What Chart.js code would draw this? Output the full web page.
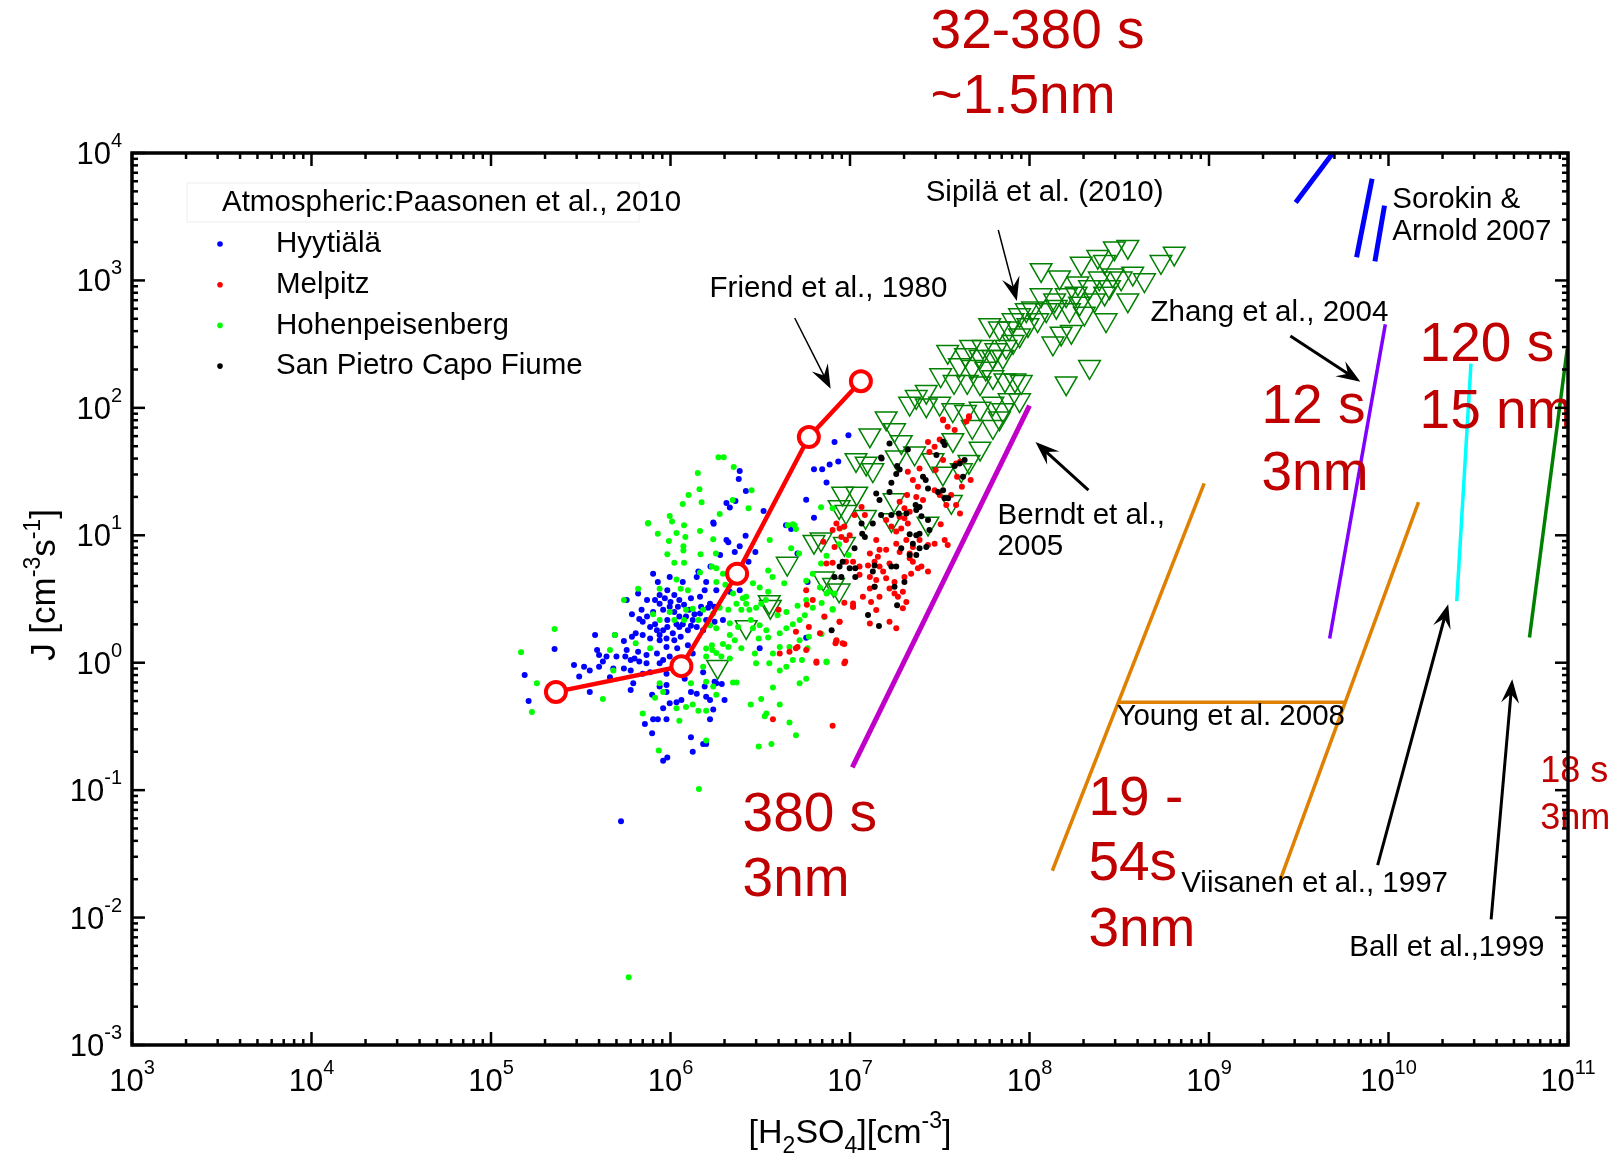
<!DOCTYPE html>
<html lang="en">
<head>
<meta charset="UTF-8">
<title>J vs H2SO4</title>
<script src="https://cdn.jsdelivr.net/npm/chart.js"></script>
<style>
  body { margin: 0; background: #fff; }
</style>
</head>
<body>
<canvas id="myChart" width="1619" height="1158"></canvas>
<script>
// axis ticks
const xTicks = [1e3, 1e4, 1e5, 1e6, 1e7, 1e8, 1e9, 1e10, 1e11];
const xTickLabels = ['3', '4', '5', '6', '7', '8', '9', '10', '11'];
const yTicks = [1e-3, 1e-2, 1e-1, 1, 10, 100, 1e3, 1e4];
const yTickLabels = ['-3', '-2', '-1', '0', '1', '2', '3', '4'];
const minorSteps = [2, 3, 4, 5, 6, 7, 8, 9];

// legend order of the field sites
const stations = ['Hyytiälä', 'Melpitz', 'Hohenpeisenberg', 'San Pietro Capo Fiume'];
const stationColors = ['#0000ff', '#ff0000', '#00ff00', '#000000'];

// Paasonen et al. 2010 field data, [H2SO4, J]
const hyytiala = [
  [1.73e6,12.6],[2.62e6,9.9],[2.1e6,8.8],[2.43e6,8.2],[2.28e6,7.4],[2.97e6,7.4],[2.72e6,6.2],[1.43e6,5.2],[1.89e6,7.0],[1.67e6,5.7],
  [8.0e5,5.0],[8.5e5,4.3],[9.6e5,3.7],[1.17e6,4.3],[1.40e6,4.7],[1.58e6,4.3],[1.55e6,3.7],[1.80e6,3.7],[2.14e6,3.6],[2.43e6,3.7],
  [6.6e5,3.5],[7.4e5,3.1],[8.7e5,3.4],[1.05e6,3.4],[1.12e6,3.1],[1.30e6,3.2],[1.46e6,3.3],[1.66e6,2.9],[5.7e5,3.1],[6.1e5,2.4],
  [6.9e5,2.6],[6.7e5,2.2],[7.4e5,2.3],[8.0e5,2.5],[8.7e5,2.9],[9.1e5,2.6],[9.9e5,2.75],[1.05e6,2.5],[1.12e6,2.3],[1.22e6,2.3],
  [1.33e6,2.16],[1.46e6,2.43],[1.58e6,2.16],[1.76e6,2.1],[1.96e6,2.16],[7.7e5,1.91],[8.4e5,1.8],[9.1e5,1.8],[9.6e5,1.91],[1.03e6,1.7],
  [1.12e6,1.91],[1.25e6,1.8],[1.4e6,1.91],[1.52e6,1.8],[3.8e5,1.65],[4.9e5,1.65],[6.4e5,1.7],[7.7e5,1.55],[8.7e5,1.5],[9.5e5,1.33],
  [1.09e6,1.3],[1.25e6,1.37],[1.33e6,1.18],[3.9e5,1.26],[4.0e5,1.15],[4.4e5,1.12],[5.0e5,1.12],[5.6e5,1.12],[6.0e5,1.05],[6.7e5,1.02],
  [7.35e5,0.99],[8.4e5,1.18],[9.9e5,1.12],[2.9e5,0.96],[3.3e5,0.93],[3.1e5,0.78],[3.55e5,0.87],[4.0e5,0.93],[4.8e5,0.9],[5.5e5,0.9],
  [6.0e5,0.87],[7.0e5,0.82],[8.7e5,0.99],[9.5e5,0.82],[1.2e6,0.75],[1.52e6,0.84],[1.76e6,0.71],[1.93e6,0.68],[6.2e5,0.69],[6.0e5,0.61],
  [3.55e5,0.59],[7.9e5,0.56],[8.7e5,0.65],[9.5e5,0.67],[9.5e5,0.59],[1.3e6,0.59],[1.4e6,0.57],[1.58e6,0.54],[1.66e6,0.51],[1.8e6,0.69],
  [1.55e6,0.65],[2.0e6,0.51],[9.9e5,0.48],[1.08e6,0.49],[1.15e6,0.51],[9.1e5,0.44],[8.0e5,0.36],[8.5e5,0.36],[9.5e5,0.36],[7.9e5,0.28],
  [1.3e6,0.26],[1.66e6,0.36],[1.73e6,0.43],[1.52e6,0.23],[1.58e6,0.23],[1.33e6,0.2],[9.1e5,0.17],[9.6e5,0.18],[2.05e6,9.2],[3.14e6,1.3],
  [9.9e5,4.7],[6.3e5,1.08],[7.2e5,0.33],[4.6e5,0.77],[8.2e5,3.1],[9.3e5,3.2],[1.0e6,3.0],[1.1e6,2.75],[1.19e6,2.85],[1.27e6,2.6],
  [1.36e6,2.4],[1.48e6,2.75],[1.62e6,2.7],[1.75e6,2.75],[7.0e5,2.1],[8.2e5,2.0],[9.6e5,2.16],[1.08e6,2.0],[1.17e6,2.0],[1.30e6,1.95],
  [8.7e5,1.65],[9.5e5,1.55],[1.05e6,1.5],[1.14e6,1.6],[7.0e5,1.65],[6.1e5,1.6],[5.5e5,1.48],[5.7e5,1.26],[6.6e5,1.22],[7.35e5,1.15],
  [9.1e5,1.05],[1.03e6,0.93],[7.7e5,0.84],[4.2e5,1.02],[1.54e5,0.8],[1.62e5,0.5],[2.26e5,1.28],[2.43e6,31.9],[2.4e6,27.7],[2.63e6,22.3],
  [2.14e6,16.5],[2.05e6,17.9],[2.3e6,18.6],[1.74e6,12.3],[3.3e6,15.5],[4.4e6,12.0],[4.7e6,11.2],[9.8e6,61],[8.2e6,54],[8.6e6,38],
  [6.3e6,33],[7.0e6,33],[7.7e6,36],[7.4e6,26],[5.7e6,19],[6.3e6,13.7],[5.1e6,7.2],[5.8e6,4.3],[5.7e6,1.57],[5.3e5,0.057]
];

const melpitz = [
  [5.7e6,3.7],[6.2e6,3.1],[5.75e6,2.85],[9.3e6,2.95],[1.04e7,2.75],[7.2e6,2.3],[8.75e6,2.1],[5.9e6,1.91],[5.0e6,1.75],[6.8e6,1.7],
  [8.4e6,1.48],[9.3e6,1.4],[5.1e6,1.33],[5.7e6,1.26],[4.06e6,1.18],[4.6e6,1.22],[6.5e6,1.02],[9.4e6,1.02],[3.72e6,0.36],[8.0e6,0.32],
  [4.6e7,86],[4.45e7,78],[3.3e7,81],[3.5e7,71],[3.83e7,67],[2.72e7,54],[3.16e7,56.5],[2.96e7,49.5],[2.77e7,45],[3.3e7,39],
  [3.0e7,32.5],[3.9e7,36.6],[4.1e7,37.8],[3.95e7,28.8],[4.7e7,27.1],[4.2e7,24],[2.1e7,31.5],[2.44e7,33.5],[2.24e7,27.1],[2.39e7,24],
  [2.08e7,20.7],[2.34e7,20],[2.55e7,18.9],[2.96e7,22.6],[3.16e7,20.7],[3.44e7,17.3],[4.1e7,14.8],[3.66e7,20.7],[3.9e7,17.3],[3.2e7,12.2],
  [1.89e7,18.3],[2.01e7,16.3],[2.15e7,15.3],[1.89e7,14],[2.01e7,13.6],[2.1e7,12.4],[1.93e7,11.3],[1.81e7,10.7],[1.59e7,13.2],[1.7e7,11.7],
  [1.16e7,16.7],[1.06e7,14.4],[1.21e7,14.4],[8.4e6,12.4],[8.75e6,11.3],[9.3e6,11.7],[9.96e6,10],[8.95e6,9.7],[9.5e6,9.2],[8.0e6,11],
  [8.2e6,8.1],[7.1e6,8.9],[1.4e7,9.2],[1.46e7,7.7],[1.43e7,6.8],[1.29e7,7.2],[1.59e7,7.7],[1.81e7,8.6],[1.89e7,7.4],[2.15e7,7.2],
  [2.06e7,9.2],[2.24e7,8.1],[2.44e7,9.2],[2.72e7,8.4],[2.96e7,8.6],[3.37e7,9.2],[3.5e7,8.4],[2.5e7,5.7],[2.72e7,5.2],[2.39e7,5.5],
  [2.15e7,6.6],[2.24e7,6.2],[1.66e7,6.0],[1.46e7,5.7],[1.53e7,5.2],[1.26e7,5.8],[1.37e7,6.2],[1.13e7,5.7],[1.04e7,6.2],[1.29e7,4.7],
  [1.13e7,4.9],[9.5e6,6.2],[8.0e6,6.1],[7.4e6,6.0],[1.59e7,4.6],[1.4e7,4.45],[1.77e7,4.3],[2.01e7,4.7],[2.19e7,5.0],[1.29e7,3.83],
  [1.37e7,3.95],[1.18e7,3.29],[1.31e7,3.0],[1.46e7,3.29],[1.66e7,3.83],[1.77e7,3.5],[1.97e7,3.6],[2.06e7,3.0],[1.85e7,3.29],[1.97e7,2.67],
  [1.04e7,2.92],[1.04e7,2.75],[1.4e7,2.59],[1.66e7,2.1],[1.29e7,2.03],[1.81e7,1.86],[8.75e6,2.1],[8.4e6,1.5],[9.1e6,1.42],[9.3e6,0.99],
  [3.3e7,80],[4.6e7,84],[6.5e6,1.0],[8.3e6,1.42],[4.0e6,2.6],[5.0e6,1.3]
];

const hohenpeisenberg = [
  [7.5e5,12.4],[1.02e6,12.8],[1.19e6,12.0],[8.5e5,10.3],[1.08e6,10.4],[1.21e6,9.7],[1.46e6,10.8],[1.73e6,9.3],[9.8e5,9.0],[1.18e6,8.2],
  [1.18e6,7.6],[9.6e5,7.1],[1.47e6,7.1],[1.79e6,7.2],[1.05e6,6.1],[1.19e6,6.1],[1.70e6,5.7],[1.80e6,5.5],[1.96e6,5.0],[1.08e6,4.5],
  [1.14e6,3.8],[1.25e6,3.7],[8.7e5,3.8],[1.46e6,5.1],[1.80e6,4.3],[2.02e6,4.1],[2.23e6,3.5],[2.53e6,3.2],[2.64e6,3.3],[2.88e6,4.2],
  [3.57e6,9.2],[4.5e6,12.0],[4.9e6,12.0],[4.7e6,7.9],[5.2e6,7.2],[3.5e6,5.3],[3.7e6,4.7],[4.3e6,4.2],[3.14e6,3.9],[3.5e6,3.6],
  [2.33e6,2.9],[2.48e6,2.6],[2.64e6,2.9],[3.0e6,2.7],[3.4e6,3.1],[2.1e6,2.6],[1.88e6,2.7],[1.33e6,2.65],[1.22e6,2.6],[1.52e6,2.6],
  [1.73e6,2.43],[9.9e5,2.5],[8.0e5,2.4],[8.7e5,2.16],[1.05e6,2.16],[1.19e6,2.16],[1.43e6,2.16],[1.66e6,1.97],[1.80e6,1.86],[2.14e6,2.04],
  [2.38e6,1.91],[2.14e6,1.65],[2.28e6,1.5],[1.96e6,1.4],[1.70e6,1.37],[1.58e6,1.29],[1.80e6,1.19],[2.1e6,1.33],[2.48e6,1.3],[2.88e6,1.86],
  [3.14e6,1.97],[3.42e6,1.8],[3.5e6,1.58],[3.1e6,1.55],[4.06e6,1.7],[4.42e6,1.86],[4.8e6,2.0],[5.24e6,2.16],[4.42e6,2.5],[5.1e6,2.8],
  [5.7e6,3.1],[6.2e6,2.7],[5.6e6,2.36],[5.9e6,1.6],[5.24e6,1.5],[5.8e6,1.3],[4.6e6,1.33],[4.06e6,1.33],[3.72e6,1.18],[3.55e6,0.99],
  [2.95e6,1.18],[3.0e6,0.99],[2.14e6,1.08],[1.92e6,1.12],[1.71e6,1.26],[1.58e6,1.12],[1.52e6,0.93],[1.58e6,0.71],[1.73e6,0.65],[2.23e6,0.7],
  [2.33e6,0.7],[8.7e5,0.69],[9.1e5,0.59],[8.2e5,0.53],[1.30e6,0.69],[1.33e6,0.47],[1.22e6,0.45],[1.08e6,0.44],[1.43e6,0.42],[1.58e6,0.42],
  [1.80e6,0.56],[2.8e6,0.47],[3.2e6,0.52],[4.06e6,0.47],[3.42e6,0.4],[3.35e6,0.38],[4.6e6,0.34],[5.0e6,0.27],[3.65e6,0.23],[3.1e6,0.22],
  [1.58e6,0.245],[8.6e5,0.205],[1.12e6,0.35],[7.0e5,0.4],[4.2e5,0.52],[4.6e5,1.26],[4.9e5,1.65],[5.5e5,3.1],[6.6e5,3.8],[4.8e5,0.87],
  [6.4e5,1.42],[7.7e5,1.3],[6.9e6,6.0],[7.4e6,6.9],[5.7e6,4.4],[6.2e6,5.0],[6.8e6,3.9],[7.6e6,3.6],[8.0e6,2.6],[5.24e6,0.69],
  [5.7e6,0.75],[7.4e6,1.02],[3.72e6,0.64],[4.06e6,0.87],[4.42e6,0.93],[4.8e6,1.05],[5.4e6,1.05],[3.2e6,2.9],[2.8e6,2.16],[3.95e6,2.36],
  [2.75e6,2.6],[1.47e5,1.21],[1.8e5,0.69],[1.69e5,0.41],[2.26e5,1.84],[1.85e6,41],[1.98e6,41],[1.42e6,30.8],[2.25e6,34.3],[1.26e6,20.7],
  [1.45e6,23],[2.83e6,22.6],[2.22e6,18.9],[1.17e6,17.6],[1.49e6,18.2],[2.72e6,16.3],[1.88e6,14.7],[9.9e5,14.2],[7.5e5,12.5],[6.9e6,16.6],
  [4.8e6,12.2],[5.0e6,11.2],[8.0e6,16.3],[9.2e6,11.6],[8.7e6,8.5],[9.8e6,7.0],[7.4e6,3.5],[8.2e6,3.5],[6.95e6,2.94],[8.0e6,2.64],
  [7.2e6,2.28],[6.95e6,1.68],[7.4e6,1.01],[1.44e6,0.102],[5.85e5,0.0034]
];

const sanPietro = [
  [1.66e7,52.6],[2.1e7,47.2],[1.49e7,40.8],[1.83e7,34.9],[1.89e7,32.9],[1.81e7,30.2],[3.3e7,54.2],[3.37e7,51],[3.03e7,42.6],[4.35e7,38.9],
  [4.08e7,36.6],[4.26e7,28.8],[3.83e7,34.9],[2.55e7,28.8],[2.64e7,27.1],[1.7e7,25.8],[1.4e7,21.3],[1.66e7,21.9],[1.46e7,18.9],[2.72e7,23.3],
  [3.09e7,21.9],[3.3e7,22.6],[3.37e7,19.5],[3.52e7,19.5],[2.32e7,17.3],[2.44e7,16.7],[2.34e7,15.8],[2.5e7,14.1],[2.72e7,13.2],[2.77e7,11],
  [2.15e7,10.2],[2.34e7,10],[2.24e7,8.6],[1.49e7,14.4],[1.7e7,14.4],[1.87e7,14.8],[1.34e7,12.4],[1.16e7,12.4],[1.17e7,10.3],[1.21e7,9.7],
  [1.06e7,7.9],[9.1e6,6.2],[8.75e6,5.7],[9.96e6,5.5],[1.07e7,5.5],[8.95e6,4.7],[8.2e6,4.7],[1.07e7,4.7],[1.37e7,5.8],[1.34e7,5.2],
  [1.7e7,5.7],[1.81e7,5.7],[1.93e7,7.9],[2.15e7,7.0],[2.34e7,7.0],[2.44e7,7.9],[2.66e7,8.1],[2.44e7,10.3],[2.01e7,4.3],[1.77e7,3.95],
  [1.37e7,3.95],[1.83e7,2.83],[1.26e7,2.37],[1.45e7,1.94],[7.9e6,1.8],[2.06e7,14.8],[1.5e7,40]
];

// Sipila et al. 2010
const sipila = [
  [3.53e8,1840],[2.97e8,1790],[2.4e8,1535],[1.94e8,1360],[2.62e8,1400],[6.4e8,1630],[5.4e8,1400],[1.16e8,1210],[1.47e8,1060],[1.86e8,950],
  [2.16e8,890],[2.45e8,1040],[2.91e8,1100],[3.24e8,1040],[3.76e8,1135],[4.37e8,1007],[2.79e8,890],[2.62e8,790],[3.53e8,700],[1.82e8,790],
  [1.6e8,767],[1.38e8,700],[1.16e8,767],[2.3e8,700],[1.9e8,660],[1.67e8,586],[1.41e8,622],[1.24e8,586],[1.04e8,604],[9.6e7,586],
  [8.8e7,535],[8.1e7,489],[1.11e8,489],[9.8e7,447],[2.67e8,489],[2.02e8,551],[1.71e8,396],[1.35e8,321],[1.5e8,384],[6.0e7,447],
  [6.8e7,421],[7.7e7,421],[8.8e7,372],[8.1e7,330],[7.4e7,302],[6.5e7,284],[5.5e7,302],[4.7e7,302],[3.5e7,276],[4.4e7,260],
  [5.3e7,252],[6.25e7,252],[7.1e7,252],[4.07e7,217],[4.8e7,210],[5.7e7,204],[3.2e7,181],[3.8e7,160],[4.5e7,160],[5.3e7,156],
  [6.25e7,175],[7.3e7,165],[8.3e7,165],[9.0e7,160],[2.66e7,134],[2.34e7,122],[2.15e7,108],[2.66e7,105],[3.16e7,108],[3.74e7,96],
  [4.4e7,93],[5.3e7,99],[6.25e7,108],[7.1e7,96],[7.7e7,115],[8.8e7,115],[6.8e7,83],[6.25e7,71],[4.8e7,71],[1.59e7,83],
  [1.77e7,67],[1.29e7,61],[1.93e7,54],[1.81e7,41],[2.29e7,44],[2.9e7,39],[3.74e7,56],[5.3e7,48],[4.17e7,32.5],[3.29e7,30.6],
  [2.16e8,210],[1.6e8,156],[1.08e7,39],[1.23e7,36.6],[1.34e7,32.5],[4.6e7,37.8],[9.1e6,21.3],[1.09e7,21.3],[8.7e6,16.7],[9.5e6,15.3],
  [1.22e7,14],[1.7e7,13.2],[1.76e7,18.9],[2.72e7,12.4],[3.67e7,18.3],[6.3e6,8.9],[6.9e6,9.3],[9.3e6,8.6],[4.47e6,6.0],[7.1e6,4.6],
  [8.1e6,4.1],[8.7e6,3.7],[3.55e6,3.0],[3.6e6,2.75],[2.64e6,1.91],[1.83e6,0.93]
];

// Friend et al. 1980
const friend = [[2.3e5,0.59],[1.15e6,0.94],[2.35e6,5.0],[5.9e6,59],[1.15e7,162]];

// laboratory results, drawn as line segments
const berndt = [[1.03e7,0.151],[1.0e8,104]];
const zhang = [[4.7e9,1.55],[9.6e9,452]];
const youngLow = [[1.34e8,0.0233],[9.4e8,25.5]];
const youngHigh = [[2.49e9,0.0197],[1.47e10,18.2]];
const youngLink = [[3.13e8,0.49],[5.74e9,0.49]];
const viisanen = [[2.4e10,3.04],[2.88e10,222]];
const ball = [[6.1e10,1.58],[9.9e10,290]];
const sorokinA = [[3.04e9,4080],[4.9e9,1.0e4]];
const sorokinB = [[6.64e9,1520],[8.1e9,6270]];
const sorokinC = [[8.4e9,1410],[9.5e9,3860]];

// text notes placed in data coordinates
const notes = [
  { t: 'Friend et al., 1980', x: 1.65e6, y: 857 },
  { t: 'Sipilä et al. (2010)', x: 2.64e7, y: 4850 },
  { t: 'Sorokin &', x: 1.05e10, y: 4280 },
  { t: 'Arnold 2007', x: 1.05e10, y: 2400 },
  { t: 'Zhang et al., 2004', x: 4.72e8, y: 555 },
  { t: 'Berndt et al.,', x: 6.64e7, y: 14.2 },
  { t: '2005', x: 6.64e7, y: 8.07 },
  { t: 'Young et al. 2008', x: 3.05e8, y: 0.374 },
  { t: 'Viisanen et al., 1997', x: 7.0e8, y: 0.0183 },
  { t: 'Ball et al.,1999', x: 6.05e9, y: 0.00575 },
  { t: '32-380 s', x: 2.81e7, y: 87500, big: 55 },
  { t: '~1.5nm', x: 2.81e7, y: 27000, big: 55 },
  { t: '380 s', x: 2.52e6, y: 0.0625, big: 55 },
  { t: '3nm', x: 2.52e6, y: 0.0193, big: 55 },
  { t: '12 s', x: 1.96e9, y: 99.6, big: 55 },
  { t: '3nm', x: 1.96e9, y: 29.7, big: 55 },
  { t: '120 s', x: 1.49e10, y: 305, big: 55 },
  { t: '15 nm', x: 1.49e10, y: 91, big: 55 },
  { t: '19 -', x: 2.13e8, y: 0.0836, big: 55 },
  { t: '54s', x: 2.13e8, y: 0.0258, big: 55 },
  { t: '3nm', x: 2.13e8, y: 0.00782, big: 55 },
  { t: '18 s', x: 7.0e10, y: 0.138, big: 36 },
  { t: '3nm', x: 7.0e10, y: 0.0592, big: 36 }
];

// arrows: [tail, head], w = line width
const arrows = [
  { from: [4.92e6, 507], to: [7.8e6, 141], w: 1.5 },
  { from: [6.7e7, 2490], to: [8.5e7, 689], w: 1.5 },
  { from: [2.13e8, 22.6], to: [1.08e8, 54], w: 3 },
  { from: [2.84e9, 366], to: [6.97e9, 160], w: 3 },
  { from: [8.7e9, 0.0258], to: [2.15e10, 2.88], w: 3 },
  { from: [3.73e10, 0.0097], to: [4.89e10, 0.743], w: 3 }
];

const FONT = '"Liberation Sans", Arial, sans-serif';
const font = s => s + 'px ' + FONT;
const pts = a => a.map(([x, y]) => ({ x, y }));

function dots(k, arr) {
  return { label: stations[k], legendRank: k, data: pts(arr), backgroundColor: stationColors[k],
    borderWidth: 0, pointRadius: 3, pointHoverRadius: 3 };
}
function seg(arr, color, w) {
  return { data: pts(arr), showLine: true, borderColor: color, borderWidth: w, pointRadius: 0, pointHoverRadius: 0, fill: false };
}

// text made of parts [text, size, dy], used for powers of ten, sub- and superscripts
function richText(ctx, parts, x, y, align) {
  let w = 0;
  parts.forEach(([t, s]) => { ctx.font = font(s); w += ctx.measureText(t).width; });
  let cx = align === 'center' ? x - w / 2 : align === 'right' ? x - w : x;
  ctx.textAlign = 'left';
  ctx.textBaseline = 'alphabetic';
  parts.forEach(([t, s, dy]) => {
    ctx.font = font(s);
    ctx.fillText(t, cx, y + dy);
    cx += ctx.measureText(t).width;
  });
}

function line(ctx, x1, y1, x2, y2) {
  ctx.beginPath(); ctx.moveTo(x1, y1); ctx.lineTo(x2, y2); ctx.stroke();
}

function drawArrow(ctx, x1, y1, x2, y2, w) {
  const a = Math.atan2(y2 - y1, x2 - x1), L = 24, H = 9;
  const c = Math.cos(a), s = Math.sin(a);
  ctx.lineWidth = w;
  line(ctx, x1, y1, x2 - 12 * c, y2 - 12 * s);
  const bx = x2 - L * c, by = y2 - L * s;
  ctx.beginPath();
  ctx.moveTo(x2, y2);
  ctx.lineTo(bx - H * s, by + H * c);
  ctx.lineTo(x2 - 0.62 * L * c, y2 - 0.62 * L * s);
  ctx.lineTo(bx + H * s, by - H * c);
  ctx.closePath();
  ctx.fill();
}

const overlay = {
  id: 'overlay',
  afterDatasetsDraw(chart) {
    const { ctx, chartArea: a, scales: { x, y } } = chart;
    ctx.save();
    ctx.fillStyle = '#000';
    ctx.strokeStyle = '#000';

    // arrows
    arrows.forEach(r => {
      drawArrow(ctx, x.getPixelForValue(r.from[0]), y.getPixelForValue(r.from[1]),
        x.getPixelForValue(r.to[0]), y.getPixelForValue(r.to[1]), r.w);
    });

    // notes
    ctx.textAlign = 'left';
    ctx.textBaseline = 'middle';
    notes.forEach(n => {
      ctx.font = font(n.big || 29.5);
      ctx.fillStyle = n.big ? '#c00000' : '#000';
      ctx.fillText(n.t, x.getPixelForValue(n.x), y.getPixelForValue(n.y));
    });
    ctx.fillStyle = '#000';

    // frame
    ctx.lineWidth = 3.5;
    ctx.strokeRect(a.left, a.top, a.right - a.left, a.bottom - a.top);

    // ticks, pointing inside on all four sides
    ctx.lineWidth = 2.5;
    xTicks.forEach((v, i) => {
      const p = x.getPixelForValue(v);
      line(ctx, p, a.bottom, p, a.bottom - 13);
      line(ctx, p, a.top, p, a.top + 13);
      if (i < xTicks.length - 1) minorSteps.forEach(m => {
        const q = x.getPixelForValue(v * m);
        line(ctx, q, a.bottom, q, a.bottom - 6);
        line(ctx, q, a.top, q, a.top + 6);
      });
      richText(ctx, [['10', 31, 0], [xTickLabels[i], 20, -17]], p, a.bottom + 46, 'center');
    });
    yTicks.forEach((v, i) => {
      const p = y.getPixelForValue(v);
      line(ctx, a.left, p, a.left + 13, p);
      line(ctx, a.right, p, a.right - 13, p);
      if (i < yTicks.length - 1) minorSteps.forEach(m => {
        const q = y.getPixelForValue(v * m);
        line(ctx, a.left, q, a.left + 6, q);
        line(ctx, a.right, q, a.right - 6, q);
      });
      richText(ctx, [['10', 31, 0], [yTickLabels[i], 20, -17]], a.left - 10, p + 11, 'right');
    });

    // axis titles
    richText(ctx, [['[H', 34, 0], ['2', 23, 10], ['SO', 34, 0], ['4', 23, 10], ['][cm', 34, 0], ['-3', 23, -15], [']', 34, 0]],
      (a.left + a.right) / 2, a.bottom + 98, 'center');
    ctx.save();
    ctx.translate(a.left - 77, (a.top + a.bottom) / 2 - 14);
    ctx.rotate(-Math.PI / 2);
    richText(ctx, [['J [cm', 35, 0], ['-3', 23, -15], ['s', 35, 0], ['-1', 23, -15], [']', 35, 0]], 0, 0, 'center');
    ctx.restore();

    // legend
    ctx.strokeStyle = 'rgba(0,0,0,0.07)';
    ctx.lineWidth = 1;
    ctx.strokeRect(a.left + 55, a.top + 30, 452, 39);
    ctx.font = font(29.5);
    ctx.textAlign = 'left';
    ctx.textBaseline = 'middle';
    ctx.fillText('Atmospheric:Paasonen et al., 2010', a.left + 90, a.top + 50);
    chart.data.datasets.filter(d => d.legendRank !== undefined)
      .sort((p, q) => p.legendRank - q.legendRank)
      .forEach((d, i) => {
        const ly = a.top + 91 + i * 40.7;
        ctx.fillStyle = d.backgroundColor;
        ctx.beginPath(); ctx.arc(a.left + 88, ly, 2.8, 0, Math.PI * 2); ctx.fill();
        ctx.fillStyle = '#000';
        ctx.fillText(d.label, a.left + 144, ly);
      });
    ctx.restore();
  }
};

// first dataset is drawn on top
const datasets = [
  { data: pts(friend), showLine: true, borderColor: '#ff0000', borderWidth: 4.5, pointStyle: 'circle',
    pointRadius: 10, pointHoverRadius: 10, pointBorderWidth: 4, pointBackgroundColor: '#ffffff', pointBorderColor: '#ff0000' },
  seg(berndt, '#c000c8', 5),
  seg(zhang, '#8000ff', 3.5),
  seg(youngLow, '#e08000', 3.5),
  seg(youngHigh, '#e08000', 3.5),
  seg(youngLink, '#e08000', 3.5),
  seg(viisanen, '#00ffff', 3.5),
  seg(ball, '#008000', 3.5),
  seg(sorokinA, '#0000ff', 5),
  seg(sorokinB, '#0000ff', 5),
  seg(sorokinC, '#0000ff', 5),
  dots(3, sanPietro),
  dots(1, melpitz),
  dots(2, hohenpeisenberg),
  dots(0, hyytiala),
  { data: pts(sipila), pointStyle: 'triangle', rotation: 180, pointRadius: 12.5, pointHoverRadius: 12.5,
    borderColor: '#008000', borderWidth: 1.5, backgroundColor: 'rgba(0,0,0,0)' }
];

const ctx = document.querySelector('#myChart');
const myChart = new Chart(ctx, {
  type: 'scatter',
  data: { datasets },
  options: {
    responsive: false,
    animation: false,
    devicePixelRatio: 1,
    layout: { padding: { left: 132, right: 51, top: 153, bottom: 113 } },
    plugins: { legend: { display: false }, tooltip: { enabled: false } },
    scales: {
      x: { type: 'logarithmic', min: 1e3, max: 1e11, display: false },
      y: { type: 'logarithmic', min: 1e-3, max: 1e4, display: false }
    }
  },
  plugins: [overlay]
});
</script>
</body>
</html>
